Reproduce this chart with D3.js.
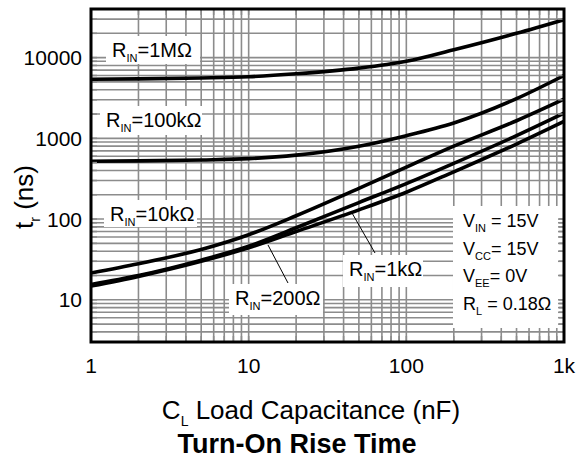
<!DOCTYPE html>
<html lang="en">
<head>
    <meta charset="UTF-8">
    <title>Turn-On Rise Time</title>
    <style>
        body {
            margin: 0;
            background: #ffffff;
            font-family: "Liberation Sans", Arial, sans-serif;
        }
        svg text {
            font-family: "Liberation Sans", Arial, sans-serif;
            fill: #000;
        }
        .grid line {
            stroke: #8c8c8c;
            stroke-width: 1.6;
        }
        .curve {
            fill: none;
            stroke: #000;
            stroke-width: 3.6;
        }
    </style>
</head>
<body>
    <svg id="chart" width="576" height="460"></svg>

    <script src="https://d3js.org/d3.v7.min.js"></script>
    <script>
        // load capacitance (nF) and rise time (ns) per input resistor
        const capNF = [1, 2, 5, 10, 20, 50, 100, 200, 500, 1000];
        const rise1M = [5400, 5450, 5600, 5800, 6300, 7400, 9000, 12500, 20000, 29500];
        const rise100k = [520, 525, 540, 560, 620, 800, 1080, 1550, 3100, 6000];
        const rise10k = [21.5, 28, 42, 64, 110, 240, 440, 800, 1650, 3050];
        const rise1k = [15.5, 20, 31, 46, 78, 160, 275, 490, 1080, 2050];
        const rise200 = [14.8, 19.5, 30, 44, 70, 130, 215, 385, 850, 1620];

        const xTickValues = [1, 10, 100, 1000];
        const xTickLabels = ["1", "10", "100", "1k"];
        const yTickValues = [10, 100, 1000, 10000];
        const yTickLabels = ["10", "100", "1000", "10000"];

        const margin = { top: 9, right: 12, bottom: 118, left: 91 },
              width = 576 - margin.left - margin.right,
              height = 460 - margin.top - margin.bottom;

        const svg = d3.select("#chart");

        const x = d3.scaleLog().domain([1, 1000]).range([margin.left, margin.left + width]);
        const y = d3.scaleLog().domain([3, 40000]).range([margin.top + height, margin.top]);

        // minor grid values: 1..9 per decade
        const xGrid = [];
        for (let d = 1; d < 1000; d *= 10) for (let m = 1; m < 10; m++) xGrid.push(d * m);
        const yGrid = [];
        for (let d = 1; d < 100000; d *= 10) for (let m = 1; m < 10; m++) {
            const v = d * m;
            if (v >= 3 && v <= 40000) yGrid.push(v);
        }

        const grid = svg.append("g").attr("class", "grid");
        grid.selectAll(".gx").data(xGrid).enter().append("line")
            .attr("x1", d => x(d)).attr("x2", d => x(d))
            .attr("y1", margin.top).attr("y2", margin.top + height);
        grid.selectAll(".gy").data(yGrid).enter().append("line")
            .attr("x1", margin.left).attr("x2", margin.left + width)
            .attr("y1", d => y(d)).attr("y2", d => y(d));

        // curves
        const line = d3.line()
            .x(d => x(d[0]))
            .y(d => y(d[1]))
            .curve(d3.curveMonotoneX);

        [rise1M, rise100k, rise10k, rise1k, rise200].forEach(series => {
            svg.append("path")
                .attr("class", "curve")
                .attr("d", line(capNF.map((c, i) => [c, series[i]])));
        });

        // label boxes
        function label(xp, yp, w, h, sub, rest) {
            svg.append("rect")
                .attr("x", xp - 6).attr("y", yp - 21)
                .attr("width", w).attr("height", h)
                .attr("fill", "#fff");
            const t = svg.append("text")
                .attr("x", xp).attr("y", yp)
                .style("font-size", "20px");
            t.append("tspan").text("R");
            t.append("tspan").attr("dy", 5).style("font-size", "11px").text(sub);
            t.append("tspan").attr("dy", -5).text(rest);
        }

        // leader lines
        svg.append("line").attr("x1", 375).attr("y1", 253).attr("x2", 352).attr("y2", 213)
            .attr("stroke", "#000").attr("stroke-width", 1);
        svg.append("line").attr("x1", 288).attr("y1", 283).attr("x2", 268).attr("y2", 245)
            .attr("stroke", "#000").attr("stroke-width", 1);

        label(112, 57, 94, 28, "IN", "=1M\u03A9");
        label(106, 127, 102, 29, "IN", "=100k\u03A9");
        label(110, 221, 93, 27, "IN", "=10k\u03A9");
        label(235, 305, 94, 31, "IN", "=200\u03A9");
        label(349, 276, 80, 32, "IN", "=1k\u03A9");

        // conditions box
        svg.append("rect")
            .attr("x", 453).attr("y", 206)
            .attr("width", 106).attr("height", 122)
            .attr("fill", "#fff");

        const conds = [
            ["V", "IN", " = 15V"],
            ["V", "CC", "= 15V"],
            ["V", "EE", "= 0V"],
            ["R", "L", " = 0.18\u03A9"]
        ];
        conds.forEach((c, i) => {
            const t = svg.append("text")
                .attr("x", 463).attr("y", 227 + i * 27.5)
                .style("font-size", "18px");
            t.append("tspan").text(c[0]);
            t.append("tspan").attr("dy", 5).style("font-size", "11px").text(c[1]);
            t.append("tspan").attr("dy", -5).text(c[2]);
        });

        // inner ticks on all sides
        const ticks = svg.append("g").attr("stroke", "#8c8c8c").attr("stroke-width", 1.6);
        xGrid.forEach(v => {
            ticks.append("line").attr("x1", x(v)).attr("x2", x(v))
                .attr("y1", margin.top + height).attr("y2", margin.top + height - 6);
            ticks.append("line").attr("x1", x(v)).attr("x2", x(v))
                .attr("y1", margin.top).attr("y2", margin.top + 6);
        });
        yGrid.forEach(v => {
            ticks.append("line").attr("y1", y(v)).attr("y2", y(v))
                .attr("x1", margin.left).attr("x2", margin.left + 6);
            ticks.append("line").attr("y1", y(v)).attr("y2", y(v))
                .attr("x1", margin.left + width).attr("x2", margin.left + width - 6);
        });

        // frame
        svg.append("rect")
            .attr("x", margin.left).attr("y", margin.top)
            .attr("width", width).attr("height", height)
            .attr("fill", "none").attr("stroke", "#000").attr("stroke-width", 3);

        // tick labels
        svg.selectAll(".xt").data(xTickValues).enter().append("text")
            .attr("x", d => x(d)).attr("y", 373)
            .attr("text-anchor", "middle")
            .style("font-size", "21px")
            .text((d, i) => xTickLabels[i]);

        svg.selectAll(".yt").data(yTickValues).enter().append("text")
            .attr("x", 82).attr("y", d => y(d) + 7.5)
            .attr("text-anchor", "end")
            .style("font-size", "21px")
            .text((d, i) => yTickLabels[i]);

        // axis titles
        const xl = svg.append("text")
            .attr("x", 311).attr("y", 419)
            .attr("text-anchor", "middle")
            .style("font-size", "26px");
        xl.append("tspan").text("C");
        xl.append("tspan").attr("dy", 7).style("font-size", "14px").text("L");
        xl.append("tspan").attr("dy", -7).text(" Load Capacitance (nF)");

        const yl = svg.append("text")
            .attr("transform", "translate(33,197) rotate(-90)")
            .attr("text-anchor", "middle")
            .style("font-size", "26px");
        yl.append("tspan").text("t");
        yl.append("tspan").attr("dy", 7).style("font-size", "14px").text("r");
        yl.append("tspan").attr("dy", -7).text(" (ns)");

        svg.append("text")
            .attr("x", 297).attr("y", 453)
            .attr("text-anchor", "middle")
            .style("font-size", "27px")
            .style("font-weight", "bold")
            .text("Turn-On Rise Time");
    </script>
</body>
</html>
